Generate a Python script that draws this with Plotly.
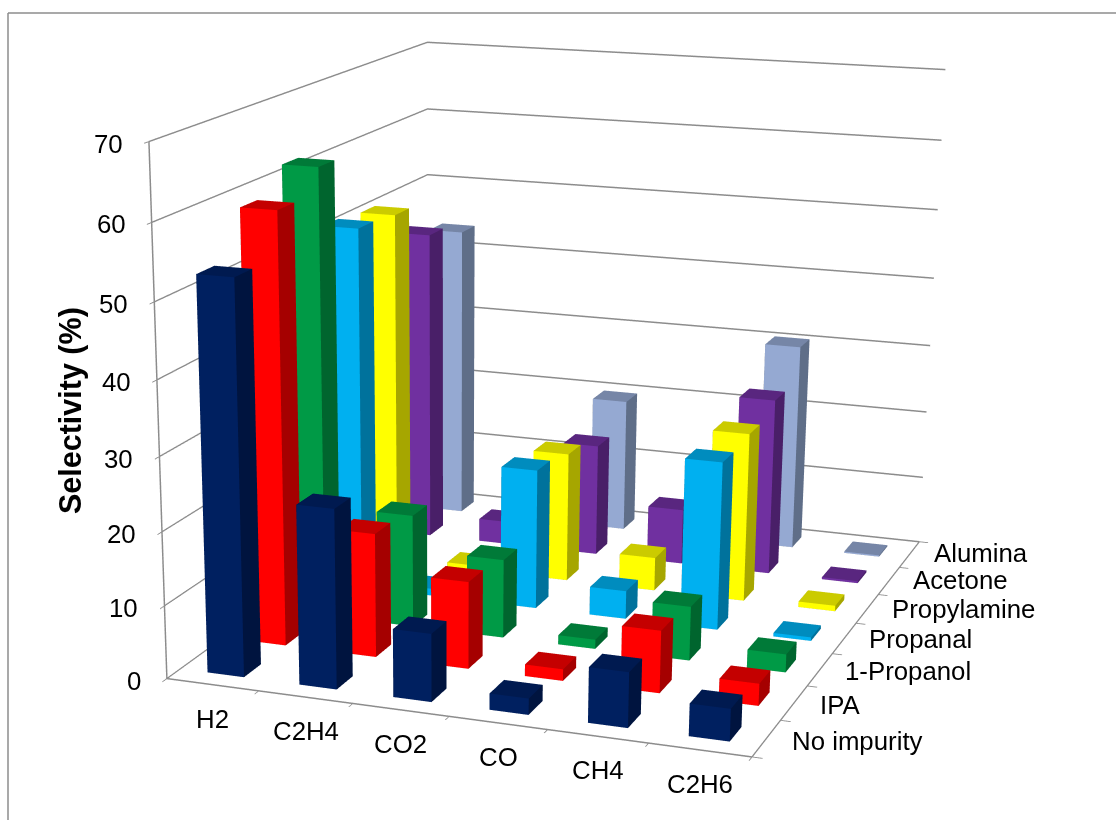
import plotly.graph_objects as go

categories = ["H2", "C2H4", "CO2", "CO", "CH4", "C2H6"]
series_names = ["No impurity", "IPA", "1-Propanol", "Propanal", "Propylamine", "Acetone", "Alumina"]

no_impurity = [53, 24.3, 9.2, 2.2, 7.4, 4.3]
ipa = [59, 17.1, 12, 1.6, 8.5, 3]
propanol = [62.3, 15.8, 11, 1.3, 7.5, 2.5]
propanal = [51.6, 1, 19.9, 4, 23.7, 0.5]
propylamine = [51, 0.6, 18.7, 4.8, 24.2, 0.8]
acetone = [45.6, 3.4, 16.4, 8.1, 25.7, 0.3]
alumina = [43.5, 0.5, 19.8, 0.5, 30.4, 0.2]
values = [no_impurity, ipa, propanol, propanal, propylamine, acetone, alumina]

front_colors = ["#002060", "#FF0000", "#009A46", "#00B0F0", "#FFFF00", "#7030A0", "#95A9D2"]
side_colors = ["#00143F", "#A50000", "#00652E", "#00729C", "#A6A600", "#491F68", "#5F6E88"]
top_colors = ["#001A50", "#C40000", "#007A38", "#008CBE", "#CBCB00", "#59267F", "#7686A7"]

z_ticks = list(range(0, 80, 10))
BAR = 0.4
GRID = "#8C8C8C"
FONT = "Liberation Sans"

# The drawing surface is larger than the window and is offset so the chart is in view;
# this narrows the effective field of view of the 3D camera.
PAGE_W, PAGE_H = 1116, 820
SCALE = 3
CANVAS_W, CANVAS_H = PAGE_W * SCALE, PAGE_H * SCALE
VIEW_CX, VIEW_CY = 448, 653
OFFSET_X = CANVAS_W // 2 - VIEW_CX
OFFSET_Y = CANVAS_H // 2 - VIEW_CY


def page_x(px):
    return (px + OFFSET_X) / CANVAS_W


def page_y(py):
    return 1 - (py + OFFSET_Y) / CANVAS_H


def bar_mesh(cat_values, row, front, side, top):
    xs, ys, zs, i, j, k, colors = [], [], [], [], [], [], []
    for col, val in enumerate(cat_values):
        n = len(xs)
        x0, x1 = col - BAR / 2, col + BAR / 2
        y0, y1 = row - BAR / 2, row + BAR / 2
        xs += [x0, x1, x1, x0, x0, x1, x1, x0]
        ys += [y0, y0, y1, y1, y0, y0, y1, y1]
        zs += [0, 0, 0, 0, val, val, val, val]
        quads = [((0, 1, 5, 4), front), ((1, 2, 6, 5), side), ((4, 5, 6, 7), top),
                 ((3, 2, 6, 7), side), ((0, 3, 7, 4), side), ((0, 1, 2, 3), side)]
        for (a, b, c, d), color in quads:
            i += [n + a, n + a]
            j += [n + b, n + c]
            k += [n + c, n + d]
            colors += [color, color]
    return go.Mesh3d(x=xs, y=ys, z=zs, i=i, j=j, k=k, facecolor=colors, flatshading=True,
                     lighting=dict(ambient=1, diffuse=0, specular=0, fresnel=0, roughness=1),
                     hoverinfo="skip", showscale=False)


fig = go.Figure()
for r, row_values in enumerate(values):
    fig.add_trace(bar_mesh(row_values, r, front_colors[r], side_colors[r], top_colors[r]))

labels = []
for c, name in enumerate(categories):
    labels.append(dict(x=c, y=-0.5, z=0, text=name, dy=34, dx=0))
for r, name in enumerate(series_names):
    labels.append(dict(x=5.5, y=r, z=0, text=name, xanchor="left", dx=24 - 0.3 * r, dy=3 - 0.7 * r))
for t in z_ticks:
    labels.append(dict(x=-0.5, y=-0.5, z=t, text=str(t), xanchor="right", dx=-24, dy=2))
for a in labels:
    a.update(showarrow=False, font=dict(family=FONT, size=25.8, color="black"),
             xshift=a.pop("dx"), yshift=-a.pop("dy"))

axis_style = dict(showticklabels=False, title=dict(text=""), showline=True, linecolor=GRID, linewidth=3,
                  ticks="outside", ticklen=8, tickcolor=GRID, tickwidth=2, showspikes=False,
                  showbackground=False, zeroline=False)

fig.update_layout(
    width=CANVAS_W, height=CANVAS_H, margin=dict(l=0, r=0, t=0, b=0),
    paper_bgcolor="white", showlegend=False,
    scene=dict(
        domain=dict(x=[0, 1], y=[0, 1]),
        xaxis=dict(range=[-0.5, 5.5], tickvals=[i + 0.5 for i in range(-1, 6)], showgrid=False, **axis_style),
        yaxis=dict(range=[-0.5, 6.5], tickvals=[i + 0.5 for i in range(-1, 7)], showgrid=False, **axis_style),
        zaxis=dict(range=[0, 70], tickvals=z_ticks, showgrid=True, gridcolor=GRID, gridwidth=3, **axis_style),
        aspectmode="manual", aspectratio=dict(x=0.81, y=0.97, z=0.72),
        camera=dict(eye=dict(x=1.2795, y=-3.852, z=0.995), center=dict(x=-0.1115, y=-0.196, z=-0.382),
                    up=dict(x=0, y=0, z=1), projection=dict(type="perspective")),
        annotations=labels,
    ),
    annotations=[dict(x=page_x(70), y=page_y(411), xref="paper", yref="paper", text="<b>Selectivity (%)</b>",
                      textangle=-90, showarrow=False, xanchor="center", yanchor="middle",
                      font=dict(family=FONT, size=30.5, color="black"))],
    shapes=[
        dict(type="line", xref="paper", yref="paper", x0=page_x(8), x1=page_x(1116), y0=page_y(13), y1=page_y(13),
             line=dict(color=GRID, width=1.5)),
        dict(type="line", xref="paper", yref="paper", x0=page_x(8), x1=page_x(8), y0=page_y(13), y1=page_y(820),
             line=dict(color=GRID, width=1.5)),
    ],
)

shift_page = (
    "document.body.style.overflow='hidden';"
    "var gd=document.getElementById('{plot_id}');"
    f"gd.style.position='absolute';gd.style.left='-{OFFSET_X}px';gd.style.top='-{OFFSET_Y}px';"
)
fig.write_html("out.html", post_script=shift_page)
